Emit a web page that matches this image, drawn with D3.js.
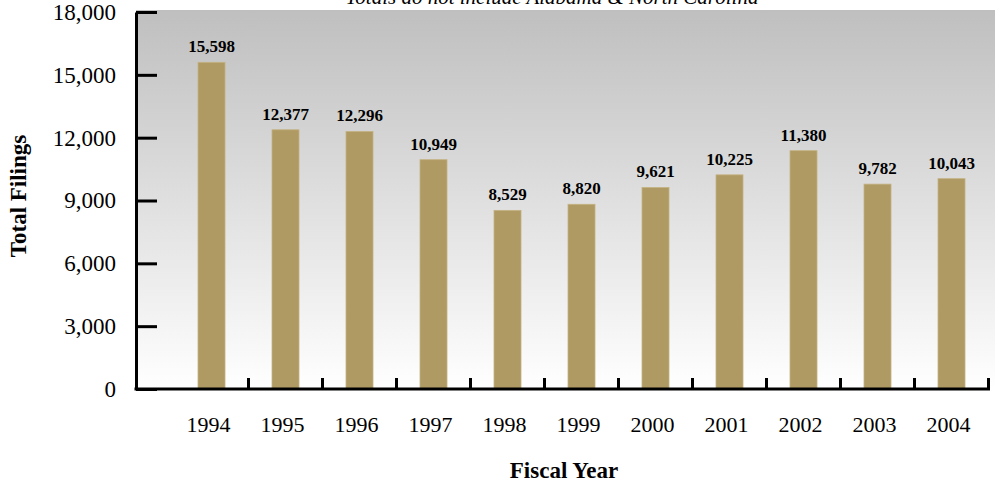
<!DOCTYPE html>
<html>
<head>
<meta charset="utf-8">
<script src="https://cdn.jsdelivr.net/npm/d3@7"></script>
<style>
  body { margin: 0; background: #fff; }
  svg { display: block; font-family: "Liberation Serif", "DejaVu Serif", serif; }
</style>
</head>
<body>
<svg width="995" height="487"></svg>
<script>
// data
const years = ['1994', '1995', '1996', '1997', '1998', '1999', '2000', '2001', '2002', '2003', '2004'];
const filings = [15598, 12377, 12296, 10949, 8529, 8820, 9621, 10225, 11380, 9782, 10043];
const yTicks = [0, 3000, 6000, 9000, 12000, 15000, 18000];

const svg = d3.select('svg');
const fmt = d3.format(',');

const left = 136, base = 389;

let x = d3.scaleBand().domain(years).range([174.5, 988.5]).padding(0);
let y = d3.scaleLinear().domain([0, 18000]).range([base, 12]);

// plot background gradient
const defs = svg.append('defs');
const grad = defs.append('linearGradient')
    .attr('id', 'bg').attr('x1', 0).attr('y1', 0).attr('x2', 0).attr('y2', 1);
grad.append('stop').attr('offset', '0%').attr('stop-color', '#bfbfbf');
grad.append('stop').attr('offset', '100%').attr('stop-color', '#ffffff');

svg.append('rect')
    .attr('x', left).attr('y', 10)
    .attr('width', 995 - left).attr('height', base - 10)
    .attr('fill', 'url(#bg)');

// subtitle, partly above the top of the picture as in the original
svg.append('text')
    .attr('x', 552).attr('y', 4)
    .attr('text-anchor', 'middle')
    .attr('font-style', 'italic')
    .attr('font-size', 21)
    .text('Totals do not include Alabama & North Carolina');

// bars
const barW = 27;
let data = years.map((yr, i) => ({ year: yr, value: filings[i] }));

svg.selectAll('rect.bar')
    .data(data)
    .enter().append('rect')
    .attr('class', 'bar')
    .attr('x', d => x(d.year) + x.bandwidth() / 2 - barW / 2)
    .attr('y', d => y(d.value))
    .attr('width', barW)
    .attr('height', d => base - y(d.value))
    .attr('fill', '#b09a63')
    .attr('stroke', '#c4b282')
    .attr('stroke-width', 0.8);

// value labels
svg.selectAll('text.val')
    .data(data)
    .enter().append('text')
    .attr('class', 'val')
    .attr('x', d => x(d.year) + x.bandwidth() / 2)
    .attr('y', d => y(d.value) - 10)
    .attr('text-anchor', 'middle')
    .attr('font-weight', 'bold')
    .attr('font-size', 17)
    .text(d => fmt(d.value));

// y axis
let yAxis = d3.axisLeft(y)
    .tickValues(yTicks)
    .tickFormat(fmt)
    .tickSizeInner(-21)
    .tickSizeOuter(0)
    .tickPadding(20);

let gy = svg.append('g')
    .attr('transform', `translate(${left},0)`)
    .call(yAxis);
gy.select('.domain').attr('stroke', '#000').attr('stroke-width', 3);
gy.selectAll('.tick line').attr('stroke', '#000').attr('stroke-width', 3);
gy.selectAll('.tick text')
    .attr('font-family', '"Liberation Serif", serif')
    .attr('font-size', 23)
    .attr('fill', '#000');
gy.attr('font-size', null).attr('font-family', null);

// x axis line and ticks between categories
svg.append('line')
    .attr('x1', left - 1.5).attr('x2', x.range()[1] + 1.5)
    .attr('y1', base).attr('y2', base)
    .attr('stroke', '#000').attr('stroke-width', 3);

svg.selectAll('line.xtick')
    .data(years.slice(1).concat(['end']))
    .enter().append('line')
    .attr('class', 'xtick')
    .attr('x1', d => d === 'end' ? x.range()[1] : x(d))
    .attr('x2', d => d === 'end' ? x.range()[1] : x(d))
    .attr('y1', base).attr('y2', base - 11)
    .attr('stroke', '#000').attr('stroke-width', 3);

let xAxis = d3.axisBottom(x).tickSize(0).tickPadding(27);
let gx = svg.append('g')
    .attr('transform', `translate(-3,${base})`)
    .call(xAxis);
gx.select('.domain').remove();
gx.selectAll('.tick text')
    .attr('font-family', '"Liberation Serif", serif')
    .attr('font-size', 22)
    .attr('fill', '#000');

// axis titles
svg.append('text')
    .attr('transform', 'translate(26,196) rotate(-90)')
    .attr('text-anchor', 'middle')
    .attr('font-weight', 'bold')
    .attr('font-size', 23)
    .text('Total Filings');

svg.append('text')
    .attr('x', 564).attr('y', 478)
    .attr('text-anchor', 'middle')
    .attr('font-weight', 'bold')
    .attr('font-size', 23)
    .text('Fiscal Year');
</script>
</body>
</html>
